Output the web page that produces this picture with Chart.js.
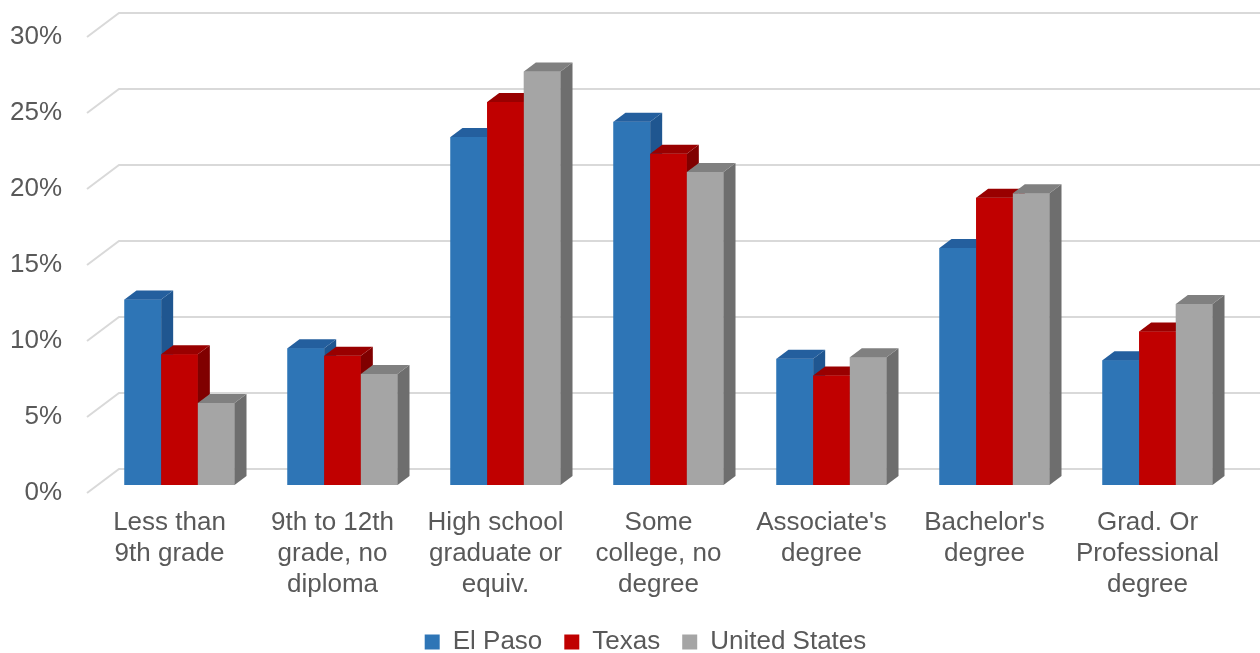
<!DOCTYPE html>
<html>
<head>
<meta charset="utf-8">
<script src="https://cdn.jsdelivr.net/npm/chart.js@4"></script>
<style>
    html, body { margin: 0; padding: 0; background: #fff; }
    #wrap { width: 1260px; height: 653px; }
</style>
</head>
<body>
<div id="wrap"><canvas id="eduChart"></canvas></div>
<script>
// Educational attainment (% of population 25+)
const categories = [
    ['Less than', '9th grade'],
    ['9th to 12th', 'grade, no', 'diploma'],
    ['High school', 'graduate or', 'equiv.'],
    ['Some', 'college, no', 'degree'],
    ["Associate's", 'degree'],
    ["Bachelor's", 'degree'],
    ['Grad. Or', 'Professional', 'degree']
];
const elPasoData = [12.2, 9.0, 22.9, 23.9, 8.3, 15.6, 8.2];
const texasData = [8.6, 8.5, 25.2, 21.8, 7.2, 18.9, 10.1];
const usData = [5.4, 7.3, 27.2, 20.6, 8.4, 19.2, 11.9];
const yTicks = [0, 5, 10, 15, 20, 25, 30];

const textColor = '#595959';
const fontFamily = '"Liberation Sans", Arial, sans-serif';

// side and top face colours for the fake 3D look
const shades = [
    { front: '#2E75B6', side: '#1F5690', top: '#245F9E' },
    { front: '#C00000', side: '#800000', top: '#990000' },
    { front: '#A5A5A5', side: '#6E6E6E', top: '#808080' }
];

// depth of a bar and offsets of the back wall / front edge
const barDX = 12, barDY = 9;
const wallDX = 21, wallDY = 16, frontDX = -11, frontDY = 8;

const wallPlugin = {
    id: 'wall',
    // legend sits a bit right of the canvas centre in the original
    afterLayout(chart) {
        chart.legend.left += 26;
        chart.legend.right += 26;
    },
    beforeDatasetsDraw(chart) {
        const { ctx, chartArea, scales: { y } } = chart;
        ctx.save();
        ctx.strokeStyle = '#D9D9D9';
        ctx.lineWidth = 2;
        yTicks.forEach(v => {
            const py = y.getPixelForValue(v);
            ctx.beginPath();
            ctx.moveTo(chartArea.left + frontDX, py + frontDY);
            ctx.lineTo(chartArea.left + wallDX, py - wallDY);
            ctx.lineTo(chart.width, py - wallDY);
            ctx.stroke();
        });
        ctx.restore();
    },
    // chart.js paints datasets last-to-first, so repaint them first-to-last
    // with their side and top faces so each bar covers the one before it
    afterDatasetsDraw(chart) {
        const { ctx } = chart;
        ctx.save();
        chart.data.datasets.forEach((ds, i) => {
            const shade = shades[i];
            chart.getDatasetMeta(i).data.forEach(bar => {
                bar.draw(ctx);
                const p = bar.getProps(['x', 'y', 'base', 'width'], true);
                const l = p.x - p.width / 2, r = p.x + p.width / 2;
                // side
                ctx.fillStyle = shade.side;
                ctx.beginPath();
                ctx.moveTo(r, p.y);
                ctx.lineTo(r + barDX, p.y - barDY);
                ctx.lineTo(r + barDX, p.base - barDY);
                ctx.lineTo(r, p.base);
                ctx.closePath();
                ctx.fill();
                // top
                ctx.fillStyle = shade.top;
                ctx.beginPath();
                ctx.moveTo(l, p.y);
                ctx.lineTo(l + barDX, p.y - barDY);
                ctx.lineTo(r + barDX, p.y - barDY);
                ctx.lineTo(r, p.y);
                ctx.closePath();
                ctx.fill();
            });
        });
        ctx.restore();
    }
};

const eduCtx = document.getElementById('eduChart').getContext('2d');
new Chart(eduCtx, {
    type: 'bar',
    data: {
        labels: categories,
        datasets: [
            { label: 'El Paso', data: elPasoData, backgroundColor: shades[0].front },
            { label: 'Texas', data: texasData, backgroundColor: shades[1].front },
            { label: 'United States', data: usData, backgroundColor: shades[2].front }
        ]
    },
    options: {
        responsive: true,
        maintainAspectRatio: false,
        animation: false,
        layout: { padding: { top: 29, right: 21, left: 0, bottom: -12 } },
        datasets: { bar: { barPercentage: 1, categoryPercentage: 0.675 } },
        scales: {
            y: {
                min: 0,
                max: 30,
                afterBuildTicks: scale => { scale.ticks = yTicks.map(v => ({ value: v })); },
                afterFit: scale => {
                    scale.width = 98;
                    scale.paddingTop = 0;
                    scale.paddingBottom = 0;
                },
                grid: { display: false, drawTicks: false },
                border: { display: false },
                ticks: {
                    callback: v => v + '%',
                    color: textColor,
                    padding: 36,
                    labelOffset: 8,
                    font: { family: fontFamily, size: 26 }
                }
            },
            x: {
                afterFit: scale => { scale.height = 122; },
                grid: { display: false, drawTicks: false },
                border: { display: false },
                ticks: {
                    color: textColor,
                    padding: 22,
                    labelOffset: -10,
                    maxRotation: 0,
                    autoSkip: false,
                    font: { family: fontFamily, size: 26, lineHeight: 1.2 }
                }
            }
        },
        plugins: {
            legend: {
                position: 'bottom',
                labels: {
                    color: textColor,
                    boxWidth: 15,
                    boxHeight: 15,
                    padding: 22,
                    font: { family: fontFamily, size: 26 }
                }
            },
            tooltip: { enabled: false }
        }
    },
    plugins: [wallPlugin]
});
</script>
</body>
</html>
